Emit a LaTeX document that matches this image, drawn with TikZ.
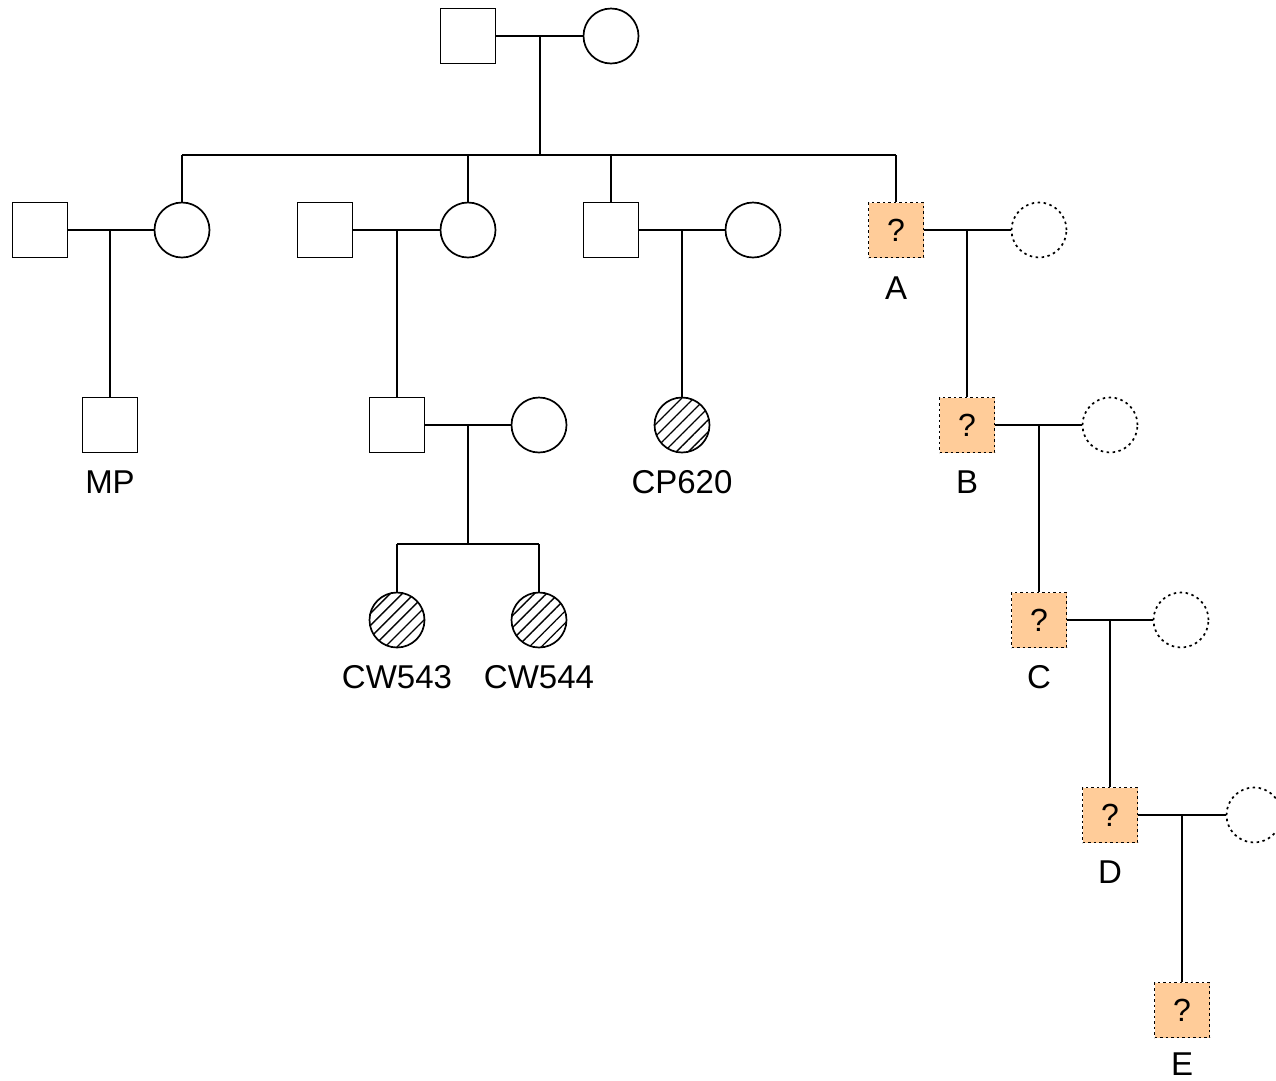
\documentclass[tikz,border=0pt]{standalone}
\usepackage{fontspec}
\setmainfont{Liberation Sans}
\usetikzlibrary{patterns.meta}
\definecolor{unkfill}{RGB}{255,204,153}
\begin{document}
\begin{tikzpicture}[x=1pt,y=-1pt,line width=1.7pt,
  male/.style={draw,minimum size=55pt,inner sep=0pt},
  female/.style={draw,circle,minimum size=55pt,inner sep=0pt},
  affected/.style={female,pattern={Lines[angle=45,distance=8.5pt,line width=1.3pt]}},
  unknown/.style={male,fill=unkfill,dash pattern=on 2.5pt off 3pt,font=\fontsize{32}{38}\selectfont},
  ghost/.style={female,dash pattern=on 2.5pt off 3.5pt},
  lbl/.style={anchor=base,inner sep=0pt,font=\fontsize{33}{39}\selectfont}]
\useasboundingbox (0,0) rectangle (1276,1080);
% generation 1
\node[male] (g1) at (468,36) {};
\node[female] (g2) at (611,36) {};
\draw (g1) -- (g2);
\coordinate (u0) at (540,36);
\coordinate (s0) at (540,155);
\draw (u0) -- (s0);
\coordinate (s0a) at (182,155);
\coordinate (s0b) at (468,155);
\coordinate (s0c) at (611,155);
\coordinate (s0d) at (896,155);
\draw (s0a) -- (s0d);
% generation 2
\node[male] (m1) at (40,230) {};
\node[female] (f1) at (182,230) {};
\node[male] (m2) at (325,230) {};
\node[female] (f2) at (468,230) {};
\node[male] (m3) at (611,230) {};
\node[female] (f3) at (753,230) {};
\node[unknown] (A) at (896,230) {?};
\node[ghost] (ga) at (1039,230) {};
\draw (s0a) -- (f1.north);
\draw (s0b) -- (f2.north);
\draw (s0c) -- (m3.north);
\draw (s0d) -- (A.north);
\draw (m1) -- (f1);
\draw (m2) -- (f2);
\draw (m3) -- (f3);
\draw (A) -- (ga);
\node[lbl] (lA) at (896,299) {A};
% generation 3
\node[male] (MP) at (110,425) {};
\node[lbl] (lMP) at (110,493) {MP};
\node[male] (p2) at (397,425) {};
\node[female] (q2) at (539,425) {};
\node[affected] (CP) at (682,425) {};
\node[lbl] (lCP) at (682,493) {CP620};
\node[unknown] (B) at (967,425) {?};
\node[ghost] (gb) at (1110,425) {};
\node[lbl] (lB) at (967,493) {B};
\coordinate (u1) at (110,230);
\coordinate (u2) at (397,230);
\coordinate (u4) at (682,230);
\coordinate (ua) at (967,230);
\draw (u1) -- (MP.north);
\draw (u2) -- (p2.north);
\draw (u4) -- (CP.north);
\draw (ua) -- (B.north);
\draw (p2) -- (q2);
\draw (B) -- (gb);
% generation 4
\coordinate (u3) at (468,425);
\coordinate (s3) at (468,544);
\coordinate (s3a) at (397,544);
\coordinate (s3b) at (539,544);
\draw (u3) -- (s3);
\draw (s3a) -- (s3b);
\node[affected] (cw1) at (397,620) {};
\node[affected] (cw2) at (539,620) {};
\draw (s3a) -- (cw1.north);
\draw (s3b) -- (cw2.north);
\node[lbl] (lcw1) at (397,688) {CW543};
\node[lbl] (lcw2) at (539,688) {CW544};
\node[unknown] (C) at (1039,620) {?};
\node[ghost] (gc) at (1181,620) {};
\node[lbl] (lC) at (1039,688) {C};
\coordinate (ub) at (1039,425);
\draw (ub) -- (C.north);
\draw (C) -- (gc);
% generation 5
\node[unknown] (D) at (1110,815) {?};
\node[ghost] (gd) at (1254,815) {};
\node[lbl] (lD) at (1110,883) {D};
\coordinate (uc) at (1110,620);
\draw (uc) -- (D.north);
\draw (D) -- (gd);
% generation 6
\node[unknown] (E) at (1182,1010) {?};
\node[lbl] (lE) at (1182,1075) {E};
\coordinate (ud) at (1182,815);
\draw (ud) -- (E.north);
\end{tikzpicture}
\end{document}
